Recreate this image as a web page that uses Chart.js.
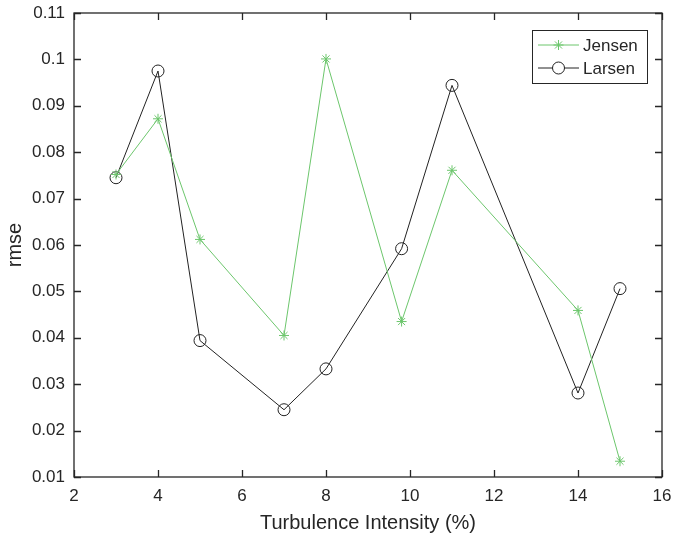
<!DOCTYPE html>
<html>
<head>
<meta charset="utf-8">
<script src="https://cdn.jsdelivr.net/npm/chart.js@4/dist/chart.umd.min.js"></script>
<style>
  html,body{margin:0;padding:0;background:#fff;}
  #wrap{width:674px;height:538px;}
</style>
</head>
<body>
<div id="wrap"><canvas id="chart" width="674" height="538"></canvas></div>
<script>
// ─── DATOS ───────────────────────────────────────────────────────────────
const turbIntensity = [3, 4, 5, 7, 8, 9.8, 11, 14, 15];
const jensenRmse = [0.0752, 0.0872, 0.0612, 0.0405, 0.1001, 0.0435, 0.0761, 0.0459, 0.0134];
const larsenRmse = [0.0745, 0.0975, 0.0394, 0.0245, 0.0333, 0.0592, 0.0944, 0.0281, 0.0506];
const seriesNames = ['Jensen', 'Larsen'];
const xTitle = 'Turbulence Intensity (%)';
const yTitle = 'rmse';

const INK = '#262626';
const GREEN = '#6cc66c';
const FONT = '"Liberation Sans", Arial, sans-serif';

const pts = ys => turbIntensity.map((x, i) => ({x, y: ys[i]}));

// ejes tipo MATLAB: caja + marcas hacia adentro en los 4 lados
const boxTicks = {
  id: 'boxTicks',
  afterDatasetsDraw(chart) {
    const {ctx, chartArea: a, scales: {x, y}} = chart;
    const L = 7;
    ctx.save();
    ctx.strokeStyle = INK;
    ctx.lineWidth = 1.3;
    ctx.beginPath();
    x.ticks.forEach(t => {
      const px = Math.round(x.getPixelForValue(t.value)) + 0.5;
      ctx.moveTo(px, a.bottom); ctx.lineTo(px, a.bottom - L);
      ctx.moveTo(px, a.top); ctx.lineTo(px, a.top + L);
    });
    y.ticks.forEach(t => {
      const py = Math.round(y.getPixelForValue(t.value)) + 0.5;
      ctx.moveTo(a.left, py); ctx.lineTo(a.left + L, py);
      ctx.moveTo(a.right, py); ctx.lineTo(a.right - L, py);
    });
    ctx.stroke();
    ctx.strokeRect(a.left, a.top, a.right - a.left, a.bottom - a.top);
    ctx.restore();
  }
};

// leyenda con línea + marcador
const matLegend = {
  id: 'matLegend',
  afterDraw(chart) {
    const {ctx} = chart;
    const bx = 532, by = 30, bw = 115, bh = 53;
    ctx.save();
    ctx.fillStyle = '#fff';
    ctx.fillRect(bx, by, bw, bh);
    ctx.strokeStyle = INK;
    ctx.lineWidth = 1;
    ctx.strokeRect(bx + 0.5, by + 0.5, bw, bh);
    chart.data.datasets.forEach((ds, i) => {
      const cy = by + 15 + i * 23;
      ctx.strokeStyle = ds.borderColor;
      ctx.lineWidth = 1;
      ctx.beginPath();
      ctx.moveTo(bx + 6, cy); ctx.lineTo(bx + 47, cy);
      ctx.stroke();
      ctx.fillStyle = '#fff';
      Chart.helpers.drawPoint(ctx, {pointStyle: ds.pointStyle, radius: ds.pointRadius, borderWidth: 1}, bx + 26.5, cy);
      ctx.fillStyle = INK;
      ctx.font = '17px ' + FONT;
      ctx.textBaseline = 'middle';
      ctx.fillText(ds.label, bx + 51, cy + 1);
    });
    ctx.restore();
  }
};

new Chart(document.getElementById('chart'), {
  type: 'scatter',
  data: {
    datasets: [
      {label: seriesNames[0], data: pts(jensenRmse), showLine: true, borderColor: GREEN, backgroundColor: 'transparent',
       borderWidth: 1, pointStyle: 'star', pointRadius: 5, pointBorderWidth: 1, pointBorderColor: GREEN},
      {label: seriesNames[1], data: pts(larsenRmse), showLine: true, borderColor: '#222', backgroundColor: 'transparent',
       borderWidth: 1, pointStyle: 'circle', pointRadius: 6, pointBorderWidth: 1, pointBorderColor: '#222'}
    ]
  },
  options: {
    responsive: false, animation: false,
    layout: {padding: {top: 13, right: 12, left: 0, bottom: 0}},
    plugins: {legend: {display: false}, tooltip: {enabled: false}},
    scales: {
      x: {
        type: 'linear', min: 2, max: 16,
        afterFit: s => { s.height = 61; s.paddingLeft = 0; s.paddingRight = 0; },
        border: {display: false}, grid: {display: false, drawTicks: false},
        ticks: {stepSize: 2, padding: 9, color: INK, font: {family: FONT, size: 17}},
        title: {display: true, text: xTitle, color: INK, font: {family: FONT, size: 20}, padding: {top: 0, bottom: 3}}
      },
      y: {
        min: 0.01, max: 0.11,
        afterFit: s => { s.width = 74; s.paddingTop = 0; s.paddingBottom = 0; },
        border: {display: false}, grid: {display: false, drawTicks: false},
        ticks: {stepSize: 0.01, padding: 9, color: INK, font: {family: FONT, size: 17},
                callback: v => String(parseFloat(v.toFixed(2)))},
        title: {display: true, text: yTitle, color: INK, font: {family: FONT, size: 20}, padding: {top: 3, bottom: 0}}
      }
    }
  },
  plugins: [boxTicks, matLegend]
});
</script>
</body>
</html>
